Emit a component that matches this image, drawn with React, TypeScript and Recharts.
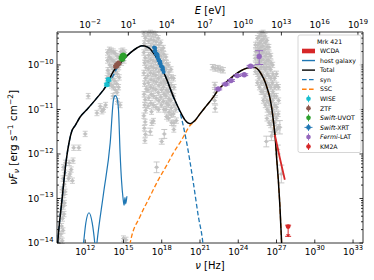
import React from 'react';
import { ComposedChart, Line, Scatter, XAxis, YAxis, ErrorBar } from 'recharts';

// log10(nu / Hz) on x, log10(nuFnu / erg s^-1 cm^-2) on y
const NU_DOMAIN = [9.79, 33.78];
const LOG_EV_PER_HZ = 14.383; // log10(1/h), h in eV s
const E_DOMAIN = [NU_DOMAIN[0] - LOG_EV_PER_HZ, NU_DOMAIN[1] - LOG_EV_PER_HZ];
const FLUX_DOMAIN = [-14, -9.26];

const NU_TICKS = [12, 15, 18, 21, 24, 27, 30, 33];
const E_TICKS = [-2, 1, 4, 7, 10, 13, 16, 19];
const FLUX_DECADES = [-14, -13, -12, -11, -10];
const FLUX_TICKS = FLUX_DECADES.flatMap((d) =>
  [1, 2, 3, 4, 5, 6, 7, 8, 9].map((k) => d + Math.log10(k))
).filter((v) => v <= FLUX_DOMAIN[1]);

// model curves
const TOTAL = [
  [9.8, -14.2], [9.85, -13.99], [10.18, -13.03], [10.52, -12.13], [10.75, -11.72], [10.96, -11.48],
  [11.22, -11.36], [11.6, -11.17], [12.14, -11.0], [12.92, -10.74], [13.65, -10.47], [14.22, -10.14],
  [14.74, -9.96], [15.53, -9.73], [16.05, -9.62], [16.44, -9.57], [16.9, -9.6], [17.35, -9.73],
  [17.87, -9.99], [18.4, -10.33], [18.91, -10.71], [19.44, -11.04], [19.83, -11.24], [20.22, -11.32],
  [20.6, -11.25], [21.0, -11.1], [21.5, -10.92], [22.0, -10.74], [22.43, -10.56], [23.01, -10.4],
  [23.61, -10.25], [24.21, -10.13], [24.7, -10.07], [25.05, -10.05], [25.35, -10.06], [25.6, -10.12],
  [25.85, -10.23], [26.09, -10.37], [26.3, -10.55], [26.48, -10.74], [26.65, -11.02], [26.79, -11.34],
  [26.91, -11.68], [27.02, -12.13], [27.14, -12.58], [27.26, -13.14], [27.4, -14.0], [27.45, -14.3],
];
const SYN = [
  [9.8, -14.2], [9.85, -13.99], [10.18, -13.03], [10.52, -12.13], [10.75, -11.72], [10.96, -11.48],
  [11.22, -11.36], [11.6, -11.17], [12.14, -11.0], [12.92, -10.74], [13.65, -10.47], [14.22, -10.23],
  [14.48, -10.08], [14.74, -9.97], [15.53, -9.73], [16.05, -9.62], [16.44, -9.57], [16.9, -9.6],
  [17.35, -9.73], [17.87, -9.99], [18.4, -10.33], [18.91, -10.72], [19.44, -11.08], [19.96, -11.75],
  [20.48, -12.65], [20.87, -13.4], [21.21, -13.96], [21.3, -14.2],
];
const SSC = [
  [15.45, -14.2], [15.53, -14.0], [16.31, -13.4], [17.0, -13.0], [17.7, -12.6], [18.4, -12.25],
  [18.91, -11.98], [19.57, -11.68], [20.22, -11.36], [20.6, -11.26], [21.0, -11.1], [21.5, -10.92],
  [22.0, -10.74], [22.43, -10.56], [23.01, -10.4], [23.61, -10.25], [24.21, -10.13], [24.7, -10.07],
  [25.05, -10.05], [25.35, -10.06], [25.6, -10.12], [25.85, -10.23], [26.09, -10.37], [26.3, -10.55],
  [26.48, -10.74], [26.65, -11.02], [26.79, -11.34], [26.91, -11.68], [27.02, -12.13], [27.14, -12.58],
  [27.26, -13.14], [27.4, -14.0], [27.45, -14.3],
];
const HOST = [
  [11.75, -14.3], [11.87, -14.0], [12.05, -13.55], [12.3, -13.32], [12.55, -13.55], [12.75, -14.0],
  [12.83, -14.25], [12.92, -14.0], [13.44, -12.88], [13.96, -11.75], [14.22, -10.78], [14.35, -10.69],
  [14.48, -10.73], [14.61, -11.0], [14.74, -12.0], [14.85, -12.6], [14.97, -13.0], [15.05, -13.15],
  [15.12, -12.98], [15.18, -13.12], [15.27, -12.95],
];
const WCDA = [[26.87, -11.57], [27.26, -12.09], [27.65, -12.58]];

// observations: [x, y, errLow, errHigh]
const WISE = [[13.7, -10.44, 0.03, 0.03], [13.83, -10.33, 0.03, 0.03]];
const ZTF = [[14.42, -10.03, 0.02, 0.02], [14.52, -9.99, 0.02, 0.02], [14.62, -9.96, 0.02, 0.02]];
const UVOT = [
  [14.85, -9.84, 0.02, 0.02], [14.92, -9.8, 0.02, 0.02], [14.98, -9.78, 0.02, 0.02],
  [15.05, -9.8, 0.02, 0.02], [14.9, -9.87, 0.02, 0.02],
];
const XRT = [
  [17.4, -9.61], [17.45, -9.69], [17.5, -9.68], [17.55, -9.76], [17.6, -9.75], [17.65, -9.83],
  [17.7, -9.82], [17.75, -9.9], [17.8, -9.89], [17.85, -9.96], [17.9, -9.96], [17.95, -10.03],
  [18.0, -10.03], [18.05, -10.1], [18.1, -10.1], [18.15, -10.16], [17.48, -9.62], [17.68, -9.77],
  [17.88, -9.92], [18.08, -10.06],
];
const FERMI = [
  [22.43, -10.54, 0.02, 0.02], [23.01, -10.43, 0.02, 0.02], [23.43, -10.35, 0.02, 0.02],
  [23.92, -10.24, 0.02, 0.02], [24.47, -10.22, 0.02, 0.02], [24.97, -10.03, 0.02, 0.02],
  [25.64, -9.81, 0.18, 0.13],
];
const KM2A = [[27.91, -13.63, 0.22, 0.03]];
const KM2A_LIMIT = [[27.91, -13.87]];

// archival data (grey)
const ARCHIVE = [
  // radio / mm
  [9.95, -13.9], [10.1, -13.8], [10.15, -13.62], [10.22, -13.45], [10.12, -13.3], [10.28, -13.18],
  [10.2, -13.05], [10.32, -12.92], [10.18, -12.8], [10.36, -12.68], [10.26, -12.55], [10.4, -12.42],
  [10.3, -12.3], [10.45, -12.2], [10.2, -13.95], [10.26, -13.72], [10.34, -13.35], [10.38, -13.1],
  [10.42, -12.85], [10.75, -12.2], [10.9, -12.35], [11.05, -12.15], [10.8, -12.45], [10.7, -12.55],
  [11.1, -11.86], [11.5, -11.86], [11.0, -12.6], [12.24, -10.7], [12.92, -11.08], [13.18, -10.93],
  [13.31, -11.04], [13.44, -11.0], [12.0, -11.55],
  // IR / optical / UV
  [13.75, -9.72], [13.75, -9.9], [13.78, -10.12], [13.72, -10.3], [13.9, -9.66], [13.88, -9.82],
  [13.92, -10.0], [13.86, -10.2], [13.9, -10.42], [14.05, -9.68], [14.02, -9.86], [14.08, -10.05],
  [14.04, -10.26], [14.06, -10.46], [14.2, -9.7], [14.18, -9.9], [14.22, -10.1], [14.16, -10.3],
  [14.21, -10.5], [14.18, -10.7], [14.35, -9.74], [14.33, -9.94], [14.37, -10.16], [14.32, -10.36],
  [14.36, -10.56], [14.5, -9.8], [14.48, -10.0], [14.52, -10.2], [14.47, -10.42], [14.5, -10.62],
  [14.53, -10.82], [14.65, -9.84], [14.63, -10.05], [14.67, -10.28], [14.62, -10.5], [14.8, -9.7],
  [14.85, -9.95], [14.95, -9.68], [15.05, -9.9], [15.1, -9.72], [13.6, -10.9], [14.74, -10.9],
  [15.2, -13.93], [15.0, -13.9],
  // X-ray
  [16.6, -9.3], [16.72, -9.4], [16.64, -9.52], [16.78, -9.62], [16.6, -9.72], [16.7, -9.84],
  [16.66, -9.95], [16.76, -10.06], [16.6, -10.18], [16.72, -10.3], [16.65, -10.42], [16.78, -10.54],
  [16.62, -10.66], [16.7, -10.78], [16.66, -10.9], [16.74, -11.02], [16.6, -11.14], [16.7, -11.28],
  [16.64, -11.42], [16.72, -11.56], [16.68, -11.7],
  [16.92, -9.3], [16.95, -9.46], [16.9, -9.62], [16.97, -9.78], [16.93, -9.92], [16.96, -10.08],
  [16.9, -10.24], [16.95, -10.4], [16.92, -10.56], [16.98, -10.74], [16.94, -10.92],
  [17.12, -9.28], [17.16, -9.43], [17.13, -9.58], [17.18, -9.73], [17.14, -9.88], [17.17, -10.03],
  [17.12, -10.18], [17.16, -10.33], [17.13, -10.5], [17.18, -10.66], [17.14, -10.86], [17.2, -11.05],
  [17.22, -11.3], [17.33, -9.3], [17.37, -9.45], [17.34, -9.6], [17.38, -9.76], [17.32, -9.9],
  [17.36, -10.06], [17.34, -10.2], [17.38, -10.36], [17.33, -10.52], [17.37, -10.7], [17.35, -10.9],
  [17.35, -11.26], [17.53, -9.32], [17.57, -9.48], [17.54, -9.62], [17.58, -9.78], [17.52, -9.93],
  [17.56, -10.08], [17.54, -10.23], [17.58, -10.38], [17.53, -10.55], [17.57, -10.75], [17.55, -10.95],
  [17.73, -9.4], [17.77, -9.55], [17.74, -9.7], [17.78, -9.86], [17.72, -10.0], [17.76, -10.15],
  [17.74, -10.3], [17.78, -10.46], [17.73, -10.62], [17.77, -10.8], [17.75, -11.0],
  [17.93, -9.5], [17.97, -9.66], [17.94, -9.8], [17.98, -9.96], [17.92, -10.1], [17.96, -10.26],
  [17.94, -10.4], [17.98, -10.56], [17.93, -10.72], [17.97, -10.9],
  [18.13, -9.62], [18.17, -9.76], [18.14, -9.9], [18.18, -10.06], [18.12, -10.2], [18.16, -10.36],
  [18.14, -10.5], [18.18, -10.66], [18.13, -10.82], [18.17, -11.0],
  [18.33, -9.82], [18.37, -9.96], [18.34, -10.1], [18.38, -10.26], [18.32, -10.4], [18.36, -10.56],
  [18.34, -10.7], [18.38, -10.86], [18.33, -11.0], [18.37, -11.16],
  [18.53, -10.0], [18.57, -10.16], [18.54, -10.3], [18.58, -10.46], [18.52, -10.6], [18.56, -10.76],
  [18.54, -10.9], [18.58, -11.06], [18.53, -11.2],
  [18.73, -10.1], [18.77, -10.28], [18.74, -10.45], [18.78, -10.62], [18.72, -10.8], [18.76, -10.96],
  [18.74, -11.12], [18.78, -11.3], [18.93, -10.3], [18.97, -10.5], [18.94, -10.7], [18.98, -10.9],
  [18.92, -11.1], [18.96, -11.3], [18.95, -11.45], [19.1, -11.0], [19.15, -11.25],
  // TeV
  [25.35, -9.55], [25.37, -9.7], [25.33, -9.85], [25.36, -10.0], [25.34, -10.15],
  [25.5, -9.4], [25.52, -9.55], [25.48, -9.7], [25.51, -9.85], [25.49, -10.0], [25.52, -10.2], [25.5, -10.4],
  [25.65, -9.35], [25.67, -9.5], [25.63, -9.65], [25.66, -9.8], [25.64, -9.95], [25.67, -10.1],
  [25.63, -10.3], [25.66, -10.5], [25.8, -9.3], [25.82, -9.45], [25.78, -9.6], [25.81, -9.75],
  [25.79, -9.9], [25.82, -10.05], [25.78, -10.2], [25.81, -10.4], [25.8, -10.6],
  [25.95, -9.28], [25.97, -9.42], [25.93, -9.58], [25.96, -9.72], [25.94, -9.88], [25.97, -10.05],
  [25.93, -10.22], [25.96, -10.4], [25.94, -10.6], [25.97, -10.8],
  [26.1, -9.35], [26.12, -9.5], [26.08, -9.65], [26.11, -9.8], [26.09, -9.95], [26.12, -10.1],
  [26.08, -10.3], [26.11, -10.5], [26.09, -10.7], [26.12, -10.9],
  [26.25, -9.45], [26.27, -9.6], [26.23, -9.75], [26.26, -9.9], [26.24, -10.05], [26.27, -10.2],
  [26.23, -10.4], [26.26, -10.6], [26.24, -10.8], [26.27, -11.0], [26.25, -11.2],
  [26.4, -9.6], [26.42, -9.75], [26.38, -9.9], [26.41, -10.05], [26.39, -10.25], [26.42, -10.45],
  [26.38, -10.65], [26.41, -10.85], [26.39, -11.05], [26.42, -11.3],
  [26.55, -9.8], [26.57, -9.95], [26.53, -10.1], [26.56, -10.3], [26.54, -10.5], [26.57, -10.7],
  [26.53, -10.9], [26.56, -11.1], [26.54, -11.35],
  [26.7, -10.0], [26.72, -10.2], [26.68, -10.4], [26.71, -10.6], [26.69, -10.8], [26.72, -11.0],
  [26.68, -11.25], [26.71, -11.5], [26.85, -10.3], [26.87, -10.5], [26.83, -10.7], [26.86, -10.9],
  [26.84, -11.1], [26.87, -11.3], [26.85, -11.5], [27.0, -10.2], [27.02, -10.45], [26.98, -10.7],
  [27.01, -10.95], [26.99, -11.2], [27.02, -11.45], [27.15, -10.5], [27.17, -10.8], [27.13, -11.1],
  [27.16, -11.4],
];
const ARCHIVE_ERR_DEX = 0.06; // typical archival flux error
const ARCHIVE_ERR = [
  [17.6, -12.3, 0.12], [18.0, -11.72, 0.06], [18.2, -11.55, 0.1], [17.1, -11.5, 0.08],
  [22.0, -10.05, 0.06], [22.2, -10.08, 0.06], [22.4, -10.07, 0.06], [22.6, -10.1, 0.06], [22.8, -10.12, 0.06],
  [22.16, -10.45, 0.06], [22.18, -10.62, 0.07], [22.15, -10.8, 0.07], [22.19, -10.98, 0.08],
  [26.2, -11.72, 0.12], [27.26, -11.4, 0.15], [27.38, -12.45, 0.2], [26.6, -11.6, 0.1], [27.1, -11.9, 0.1],
];

const FONT = '"DejaVu Sans", sans-serif';
const BLUE = '#1f77b4';
const ORANGE = '#ff7f0e';
const RED = '#d62728';
const CYAN = '#17becf';
const BROWN = '#8c564b';
const GREEN = '#2ca02c';
const PURPLE = '#9467bd';
const GREY = '#c2c2c2';

// draw order: archive < model curves < instrument points
const Z_ARCHIVE = 100;
const Z_MODEL = 700;
const Z_POINTS = 800;

const xy = (a: number[][]) => a.map(([x, y]) => ({ x, y }));
const xyErr = (a: number[][]) => a.map(([x, y, lo, hi]) => ({ x, y, ey: [lo, hi ?? lo] }));

const sup = (v: number) => (v < 0 ? '\u2212' + Math.abs(v) : String(v));
const isMajor = (v: number) => Math.abs(v - Math.round(v)) < 1e-6;

const BottomTick = ({ x, y, payload }: any) => (
  <g>
    <line x1={x} x2={x} y1={y} y2={y - 3.5} stroke="#000" strokeWidth={0.8} />
    <text x={x} y={y + 11.5} textAnchor="middle" fontSize={9} fontFamily={FONT} fill="#000">
      10<tspan dy={-4.5} fontSize={6.8}>{sup(payload.value)}</tspan>
    </text>
  </g>
);

const TopTick = ({ x, y, payload }: any) => (
  <g>
    <line x1={x} x2={x} y1={y} y2={y + 3.5} stroke="#000" strokeWidth={0.8} />
    <text x={x} y={y - 4} textAnchor="middle" fontSize={9} fontFamily={FONT} fill="#000">
      10<tspan dy={-4.5} fontSize={6.8}>{sup(payload.value)}</tspan>
    </text>
  </g>
);

const LeftTick = ({ x, y, payload }: any) => {
  const major = isMajor(payload.value);
  return (
    <g>
      <line x1={x} x2={x + (major ? 3.5 : 2)} y1={y} y2={y} stroke="#000" strokeWidth={0.8} />
      {major && (
        <text x={x - 3.5} y={y + 3.2} textAnchor="end" fontSize={9} fontFamily={FONT} fill="#000">
          10<tspan dy={-4.5} fontSize={6.8}>{sup(Math.round(payload.value))}</tspan>
        </text>
      )}
    </g>
  );
};

const RightTick = ({ x, y, payload }: any) => (
  <line x1={x} x2={x - (isMajor(payload.value) ? 3.5 : 2)} y1={y} y2={y} stroke="#000" strokeWidth={0.8} />
);

const greyDot = (p: any) => (
  <g>
    <circle cx={p.cx} cy={p.cy} r={1.7} fill={GREY} />
    <line x1={p.cx - 2.4} x2={p.cx + 2.4} y1={p.cy} y2={p.cy} stroke={GREY} strokeWidth={0.8} />
  </g>
);
const dot = (color: string, r = 2.6) => (p: any) => <circle cx={p.cx} cy={p.cy} r={r} fill={color} />;
const downArrow = (p: any) => (
  <path d={`M${p.cx - 2.2},${p.cy - 3} L${p.cx + 2.2},${p.cy - 3} L${p.cx},${p.cy} Z`} fill={RED} />
);

type Row = { label: string; italic?: string; kind: string; color: string };
const LEGEND_ROWS: Row[] = [
  { label: 'WCDA', kind: 'patch', color: RED },
  { label: 'host galaxy', kind: 'line', color: BLUE },
  { label: 'Total', kind: 'line', color: '#000' },
  { label: 'syn', kind: 'dash', color: BLUE },
  { label: 'SSC', kind: 'dash', color: ORANGE },
  { label: 'WISE', kind: 'marker', color: CYAN },
  { label: 'ZTF', kind: 'marker', color: BROWN },
  { label: '-UVOT', italic: 'Swift', kind: 'marker', color: GREEN },
  { label: '-XRT', italic: 'Swift', kind: 'markerx', color: BLUE },
  { label: '-LAT', italic: 'Fermi', kind: 'marker', color: PURPLE },
  { label: 'KM2A', kind: 'marker', color: RED },
];

const LegendBox = () => {
  const bx = 298, by = 35, bw = 63, bh = 117.5;
  const sx0 = bx + 4, sx1 = bx + 17, sc = bx + 10.5, tx = bx + 22;
  return (
    <g fontFamily={FONT} fontSize={6.2}>
      <rect x={bx} y={by} width={bw} height={bh} rx={2} fill="#fff" fillOpacity={0.8} stroke="#cccccc" strokeWidth={0.8} />
      <text x={bx + bw / 2} y={by + 9.2} textAnchor="middle" fill="#000">Mrk 421</text>
      {LEGEND_ROWS.map((r, i) => {
        const cy = by + 16 + i * 9.55;
        let sym: React.ReactNode = null;
        if (r.kind === 'patch') sym = <rect x={sx0} y={cy - 2.3} width={sx1 - sx0} height={4.6} fill={r.color} />;
        if (r.kind === 'line') sym = <line x1={sx0} x2={sx1} y1={cy} y2={cy} stroke={r.color} strokeWidth={1.4} />;
        if (r.kind === 'dash')
          sym = <line x1={sx0} x2={sx1} y1={cy} y2={cy} stroke={r.color} strokeWidth={1.4} strokeDasharray="4.6,2.4" />;
        if (r.kind === 'marker' || r.kind === 'markerx')
          sym = (
            <g stroke={r.color} strokeWidth={0.9}>
              <line x1={sc} x2={sc} y1={cy - 3.5} y2={cy + 3.5} />
              {r.kind === 'markerx' && <line x1={sc - 4} x2={sc + 4} y1={cy} y2={cy} />}
              <circle cx={sc} cy={cy} r={2.3} fill={r.color} stroke="none" />
            </g>
          );
        return (
          <g key={i}>
            {sym}
            <text x={tx} y={cy + 2.2} fill="#000">
              {r.italic && <tspan fontStyle="italic">{r.italic}</tspan>}
              <tspan>{r.label}</tspan>
            </text>
          </g>
        );
      })}
    </g>
  );
};

const AxisTitles = () => (
  <g fontFamily={FONT} fill="#000" style={{ whiteSpace: 'pre' }}>
    <text x={210} y={13.5} textAnchor="middle" fontSize={10}>
      <tspan fontStyle="italic">E</tspan> [eV]
    </text>
    <text x={210} y={268.5} textAnchor="middle" fontSize={10}>
      <tspan fontStyle="italic">ν</tspan> [Hz]
    </text>
    <text x={17} y={137.5} transform="rotate(-90 17 137.5)" textAnchor="middle" fontSize={10.5}>
      <tspan fontStyle="italic">νF</tspan>
      <tspan fontStyle="italic" fontSize={7.5} dy={2}>ν</tspan>
      <tspan dy={-2}> [erg s</tspan>
      <tspan fontSize={7.5} dy={-4.5}>−1</tspan>
      <tspan dy={4.5}> cm</tspan>
      <tspan fontSize={7.5} dy={-4.5}>−2</tspan>
      <tspan dy={4.5}>]</tspan>
    </text>
  </g>
);

const AXIS_LINE = { stroke: '#000', strokeWidth: 0.8 };

export default function App() {
  const archive = ARCHIVE.map(([x, y]) => ({ x, y, ey: [ARCHIVE_ERR_DEX, ARCHIVE_ERR_DEX] }));
  return (
    <div style={{ position: 'absolute', left: 0, top: 0, width: 374, height: 280, background: '#fff' }}>
      <ComposedChart width={374} height={280} margin={{ top: 0, right: 0, bottom: 0, left: 0 }}>
        <XAxis xAxisId="nu" type="number" dataKey="x" domain={NU_DOMAIN} allowDataOverflow ticks={NU_TICKS}
          interval={0} height={37} tickSize={0} tickMargin={0} tickLine={false} axisLine={AXIS_LINE} tick={<BottomTick />} />
        <XAxis xAxisId="E" orientation="top" type="number" dataKey="x" domain={E_DOMAIN} allowDataOverflow ticks={E_TICKS}
          interval={0} height={32} tickSize={0} tickMargin={0} tickLine={false} axisLine={AXIS_LINE} tick={<TopTick />} />
        <YAxis yAxisId="f" type="number" dataKey="y" domain={FLUX_DOMAIN} allowDataOverflow ticks={FLUX_TICKS}
          interval={0} width={57} tickSize={0} tickMargin={0} tickLine={false} axisLine={AXIS_LINE} tick={<LeftTick />} />
        <YAxis yAxisId="r" orientation="right" type="number" dataKey="y" domain={FLUX_DOMAIN} allowDataOverflow ticks={FLUX_TICKS}
          interval={0} width={11} tickSize={0} tickMargin={0} tickLine={false} axisLine={AXIS_LINE} tick={<RightTick />} />

        <Scatter xAxisId="nu" yAxisId="f" data={archive} shape={greyDot} zIndex={Z_ARCHIVE} isAnimationActive={false}>
          <ErrorBar dataKey="ey" direction="y" width={2.5} stroke={GREY} strokeWidth={0.8} zIndex={Z_ARCHIVE} isAnimationActive={false} />
        </Scatter>
        <Scatter xAxisId="nu" yAxisId="f" data={xyErr(ARCHIVE_ERR)} shape={greyDot} zIndex={Z_ARCHIVE} isAnimationActive={false}>
          <ErrorBar dataKey="ey" direction="y" width={3} stroke={GREY} strokeWidth={0.9} zIndex={Z_ARCHIVE} isAnimationActive={false} />
        </Scatter>

        <Line xAxisId="nu" yAxisId="f" data={xy(HOST)} dataKey="y" type="monotone" dot={false} activeDot={false} zIndex={Z_MODEL} stroke={BLUE} strokeWidth={1.2} isAnimationActive={false} />
        <Line xAxisId="nu" yAxisId="f" data={xy(SYN)} dataKey="y" type="monotone" dot={false} activeDot={false} zIndex={Z_MODEL} stroke={BLUE} strokeWidth={1.3} strokeDasharray="4.6,2.4" isAnimationActive={false} />
        <Line xAxisId="nu" yAxisId="f" data={xy(SSC)} dataKey="y" type="monotone" dot={false} activeDot={false} zIndex={Z_MODEL} stroke={ORANGE} strokeWidth={1.3} strokeDasharray="4.6,2.4" isAnimationActive={false} />
        <Line xAxisId="nu" yAxisId="f" data={xy(TOTAL)} dataKey="y" type="monotone" dot={false} activeDot={false} zIndex={Z_MODEL} stroke="#000" strokeWidth={1.5} isAnimationActive={false} />
        <Line xAxisId="nu" yAxisId="f" data={xy(WCDA)} dataKey="y" type="monotone" dot={false} activeDot={false} zIndex={Z_MODEL} stroke={RED} strokeWidth={1.8} isAnimationActive={false} />

        <Scatter xAxisId="nu" yAxisId="f" data={xyErr(WISE)} shape={dot(CYAN)} zIndex={Z_POINTS} isAnimationActive={false}>
          <ErrorBar dataKey="ey" direction="y" width={3} stroke={CYAN} strokeWidth={1} zIndex={Z_POINTS} isAnimationActive={false} />
        </Scatter>
        <Scatter xAxisId="nu" yAxisId="f" data={xyErr(ZTF)} shape={dot(BROWN)} zIndex={Z_POINTS} isAnimationActive={false}>
          <ErrorBar dataKey="ey" direction="y" width={3} stroke={BROWN} strokeWidth={1} zIndex={Z_POINTS} isAnimationActive={false} />
        </Scatter>
        <Scatter xAxisId="nu" yAxisId="f" data={xyErr(UVOT)} shape={dot(GREEN)} zIndex={Z_POINTS} isAnimationActive={false}>
          <ErrorBar dataKey="ey" direction="y" width={3} stroke={GREEN} strokeWidth={1} zIndex={Z_POINTS} isAnimationActive={false} />
        </Scatter>
        <Scatter xAxisId="nu" yAxisId="f" data={XRT.map(([x, y]) => ({ x, y, ex: [0.08, 0.08], ey: [0.03, 0.03] }))}
          shape={dot(BLUE, 2)} zIndex={Z_POINTS} isAnimationActive={false}>
          <ErrorBar dataKey="ex" direction="x" width={0} stroke={BLUE} strokeWidth={1.2} zIndex={Z_POINTS} isAnimationActive={false} />
          <ErrorBar dataKey="ey" direction="y" width={0} stroke={BLUE} strokeWidth={1.2} zIndex={Z_POINTS} isAnimationActive={false} />
        </Scatter>
        <Scatter xAxisId="nu" yAxisId="f" data={xyErr(FERMI)} shape={dot(PURPLE, 2.7)} zIndex={Z_POINTS} isAnimationActive={false}>
          <ErrorBar dataKey="ey" direction="y" width={4} stroke={PURPLE} strokeWidth={1} zIndex={Z_POINTS} isAnimationActive={false} />
        </Scatter>
        <Scatter xAxisId="nu" yAxisId="f" data={xyErr(KM2A)} shape={dot(RED, 2.4)} zIndex={Z_POINTS} isAnimationActive={false}>
          <ErrorBar dataKey="ey" direction="y" width={3} stroke={RED} strokeWidth={1} zIndex={Z_POINTS} isAnimationActive={false} />
        </Scatter>
        <Scatter xAxisId="nu" yAxisId="f" data={xy(KM2A_LIMIT)} shape={downArrow} zIndex={Z_POINTS} isAnimationActive={false} />
      </ComposedChart>
      <svg width={374} height={280} style={{ position: 'absolute', left: 0, top: 0, pointerEvents: 'none' }}>
        <AxisTitles />
        <LegendBox />
      </svg>
    </div>
  );
}
